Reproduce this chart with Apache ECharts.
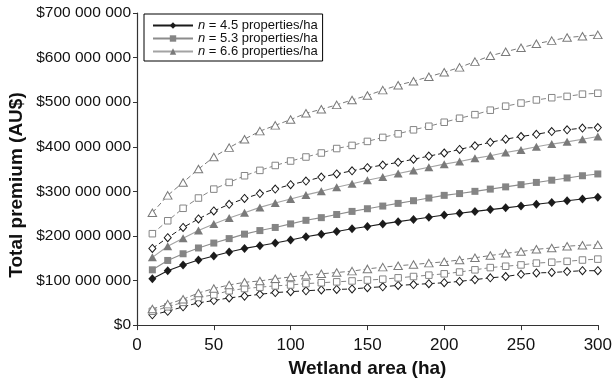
<!DOCTYPE html>
<html>
<head>
<meta charset="utf-8">
<script src="https://cdn.jsdelivr.net/npm/echarts@6/dist/echarts.min.js"></script>
<style>
html,body{margin:0;padding:0;background:#fff;}
#chart{width:615px;height:383px;}
</style>
</head>
<body>
<div id="chart"></div>
<script>
// Wetland area (ha)
var area = [10,20,30,40,50,60,70,80,90,100,110,120,130,140,150,160,170,180,190,200,210,220,230,240,250,260,270,280,290,300];

// Total premium, millions of AU$
// central estimates (filled markers)
var mid45 = [104,122,135,146,155,164,172,178,184,191,198,204,210,216,221,227,232,237,242,247,251,255,259,263,267,271,275,279,283,287];
var mid53 = [124,145,160,173,184,194,204,212,219,227,235,241,248,255,261,267,273,279,285,291,295,300,305,310,315,320,325,330,335,339];
var mid66 = [152,177,195,212,227,240,252,264,274,283,292,300,309,317,325,332,340,347,354,361,367,374,380,387,393,400,406,411,417,423];
// upper bounds (open markers)
var up45 = [172,196,219,238,256,271,284,295,305,315,323,332,339,346,353,359,365,372,379,386,394,402,410,417,423,428,434,438,442,443];
var up53 = [205,234,262,285,305,320,335,347,358,368,377,386,396,403,412,421,429,438,446,455,464,472,482,491,498,505,510,513,518,520];
var up66 = [252,291,320,350,377,398,417,435,448,461,475,484,494,505,515,527,538,547,557,567,578,591,604,613,622,631,638,645,648,651];
// lower bounds (open markers)
var lo45 = [23,31,41,50,55,61,65,69,73,75,77,79,80,81,84,86,89,91,93,95,98,102,106,109,114,117,118,120,122,122];
var lo53 = [31,41,51,62,68,77,82,85,88,90,93,95,97,99,101,103,106,109,112,115,119,124,129,132,135,139,141,143,146,148];
var lo66 = [36,47,58,72,82,90,96,99,104,108,112,115,118,121,126,130,133,136,139,142,146,151,156,161,165,170,173,177,179,180];

var yTicks = [0,100,200,300,400,500,600,700];
var xTicks = [0,50,100,150,200,250,300];
var legendNames = ['n = 4.5 properties/ha','n = 5.3 properties/ha','n = 6.6 properties/ha'];

function pts(arr){ return area.map(function(x,i){ return [x, arr[i]]; }); }
function fmtMoney(v){
  var s = String(Math.round(v*1e6));
  return '$' + s.replace(/\B(?=(\d{3})+(?!\d))/g, ' ');
}

var FONT = '"Liberation Sans", Arial, Helvetica, sans-serif';
var C_BLACK = '#1b1b1b', C_SQ = '#858585', C_TRI = '#7a7a7a', C_LINE_SQ = '#8c8c8c', C_LINE_TRI = '#a3a3a3';

function filled(name, data, symbol, size, mcol, lcol){
  return {name:name, type:'line', data:pts(data), symbol:symbol, symbolSize:size,
    itemStyle:{color:mcol, borderWidth:0}, lineStyle:{color:lcol, width:1.1},
    emphasis:{disabled:true}, animation:false, z:3};
}
function open(name, data, symbol, size, col){
  return {name:name, type:'line', data:pts(data), symbol:symbol, symbolSize:size,
    itemStyle:{color:'#fff', borderColor:col, borderWidth:1},
    lineStyle:{color:col, width:1, type:[5,3]},
    emphasis:{disabled:true}, animation:false, z:2};
}

var series = [
  filled(legendNames[0], mid45, 'diamond', [8,9], C_BLACK, C_BLACK),
  filled(legendNames[1], mid53, 'rect', 7, C_SQ, C_LINE_SQ),
  filled(legendNames[2], mid66, 'triangle', [9,8], C_TRI, C_LINE_TRI),
  open('upper 4.5', up45, 'diamond', [7,8], C_BLACK),
  open('upper 5.3', up53, 'rect', 6.5, C_SQ),
  open('upper 6.6', up66, 'triangle', [8.5,7.5], C_TRI),
  open('lower 4.5', lo45, 'diamond', [7,8], C_BLACK),
  open('lower 5.3', lo53, 'rect', 6.5, C_SQ),
  open('lower 6.6', lo66, 'triangle', [8.5,7.5], C_TRI)
];

var chart = echarts.init(document.getElementById('chart'), null, {renderer:'canvas'});
chart.setOption({
  backgroundColor:'#fff',
  animation:false,
  grid:{left:137, right:15, top:13, bottom:53, containLabel:false},
  legend:{
    data:legendNames, orient:'vertical', left:144, top:14,
    itemWidth:40, itemHeight:8, itemGap:0,
    padding:[5,5,3,8], borderColor:'#000', borderWidth:1, backgroundColor:'#fff',
    selectedMode:false,
    formatter:function(n){ return '{i|n}' + n.slice(1); },
    textStyle:{fontFamily:FONT, fontSize:13, color:'#111', lineHeight:10.5,
      rich:{i:{fontStyle:'italic', fontFamily:FONT, fontSize:13, lineHeight:10.5, color:'#111'}}}
  },
  xAxis:{
    type:'value', min:xTicks[0], max:xTicks[xTicks.length-1], interval:50,
    name:'Wetland area (ha)', nameLocation:'middle', nameGap:33,
    nameTextStyle:{fontFamily:FONT, fontSize:19, fontWeight:'bold', color:'#111'},
    axisLine:{show:true, onZero:false, lineStyle:{color:'#333', width:1.2}},
    axisTick:{show:true, inside:false, length:5, lineStyle:{color:'#333'}},
    axisLabel:{fontFamily:FONT, fontSize:17, color:'#111', margin:12},
    splitLine:{show:false}
  },
  yAxis:{
    type:'value', min:yTicks[0], max:yTicks[yTicks.length-1], interval:100,
    axisLine:{show:true, lineStyle:{color:'#333', width:1.2}},
    axisTick:{show:true, inside:false, length:4, lineStyle:{color:'#333'}},
    axisLabel:{fontFamily:FONT, fontSize:15.5, color:'#111', margin:6, formatter:fmtMoney},
    splitLine:{show:false}
  },
  graphic:[{
    type:'text', x:17, y:185, rotation:Math.PI/2,
    style:{text:'Total premium (AU$)', font:'bold 19px ' + FONT, fill:'#111',
      textAlign:'center', textVerticalAlign:'middle'}
  }],
  series:series
});
</script>
</body>
</html>
